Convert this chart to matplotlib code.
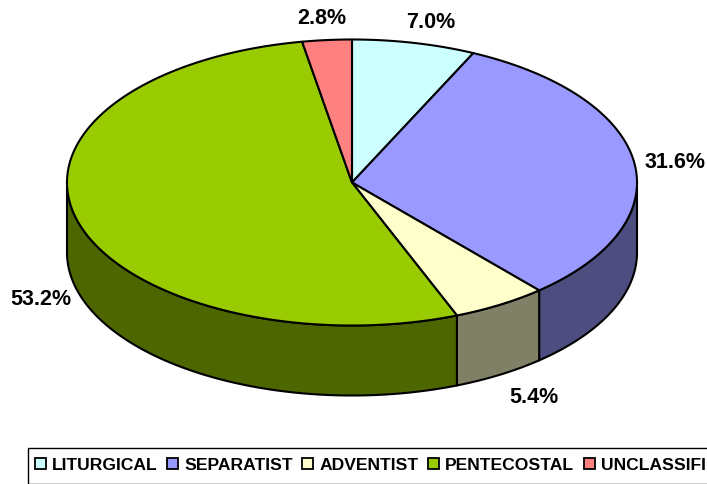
# 3D looking pie, drawn by hand since matplotlib has no such pie
import numpy as np
import matplotlib
matplotlib.use('Agg')
import matplotlib.pyplot as plt
from matplotlib.patches import Patch, Rectangle

plt.rcParams['font.family'] = ['Liberation Sans', 'DejaVu Sans']

# DATA
names = ['LITURGICAL', 'SEPARATIST', 'ADVENTIST', 'PENTECOSTAL', 'UNCLASSIFIED']
shares = [7.0, 31.6, 5.4, 53.2, 2.8]

# STYLE
top_colors = ['#CCFFFF', '#9999FF', '#FFFFCC', '#99CC00', '#FF8080']
side_colors = ['#666680', '#4D4D80', '#808066', '#4D6600', '#804040']
label_pos = [(431, 23), (675, 163), (534, 398), (41, 300), (322, 19)]
cx, cy, rx, ry, depth = 352, 183.5, 285, 143, 70
lw = 1.5


def rim(a0, a1, n=200):
    # points of the top ellipse, angle clockwise from 12 o'clock
    a = np.radians(np.linspace(a0, a1, n))
    return cx + rx*np.sin(a), cy - ry*np.cos(a)


fig = plt.figure(figsize=(7.07, 4.85), dpi=100)
ax = fig.add_axes([0, 0, 1, 1])
ax.set_xlim(0, 707)
ax.set_ylim(485, 0)
ax.axis('off')

edges = np.concatenate([[0], np.cumsum(shares)])*3.6

# side walls, only the front half of the rim shows
for i in range(len(shares)):
    a0, a1 = max(edges[i], 90), min(edges[i+1], 270)
    if a0 >= a1:
        continue
    x, y = rim(a0, a1)
    ax.fill(np.r_[x, x[::-1]], np.r_[y, y[::-1] + depth], fc=side_colors[i],
            ec='black', lw=lw, joinstyle='round', zorder=2)

# top face
for i in range(len(shares)):
    x, y = rim(edges[i], edges[i+1])
    ax.fill(np.r_[cx, x], np.r_[cy, y], fc=top_colors[i], ec='black', lw=lw,
            joinstyle='round', zorder=3)

for i, v in enumerate(shares):
    ax.text(label_pos[i][0], label_pos[i][1], f'{v:.1f}%', ha='center', va='center',
            fontsize=15.5, fontweight='bold', color='black')

# legend box runs off the right edge of the picture, like the original
ax.add_patch(Rectangle((28, 449), 700, 36, fc='white', ec='black', lw=1.0, zorder=4))
handles = [Patch(fc=c, ec='black', lw=1.3) for c in top_colors]
leg = ax.legend(handles, names, ncols=5, loc='center left',
                bbox_to_anchor=(35/707, 1 - 466/485), bbox_transform=ax.transAxes,
                prop={'size': 12.6, 'weight': 'bold'}, frameon=False, borderaxespad=0,
                borderpad=0, handlelength=0.63, handleheight=0.63, handletextpad=0.34,
                columnspacing=0.55)
leg.set_zorder(5)

fig.savefig('out.png', dpi=100)
